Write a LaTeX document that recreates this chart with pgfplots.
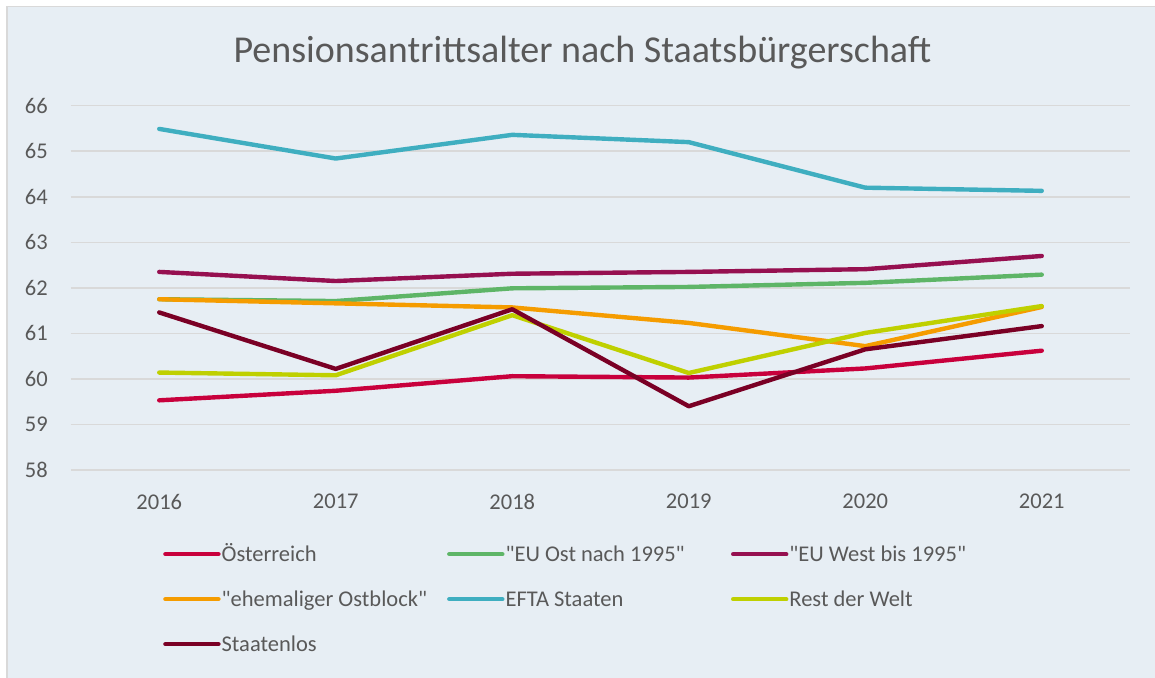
\documentclass[border=0pt]{standalone}
\usepackage{pgfplots}
\pgfplotsset{compat=1.18}
\usepackage{fontspec}
\setmainfont{Carlito}[Ligatures=TeXOff]
\definecolor{bg}{HTML}{E7EEF4}
\definecolor{bordercol}{HTML}{D9D9D9}
\definecolor{gridcol}{HTML}{D9D9D9}
\definecolor{txt}{HTML}{595959}
\definecolor{cAT}{HTML}{C8003C}
\definecolor{cEUO}{HTML}{5EB567}
\definecolor{cEUW}{HTML}{961050}
\definecolor{cOB}{HTML}{F59C00}
\definecolor{cEFTA}{HTML}{3FAEC0}
\definecolor{cRW}{HTML}{BFD000}
\definecolor{cSL}{HTML}{7A0025}
\newcommand{\legtxt}[1]{\makebox[224.5pt][l]{#1}}
\begin{document}
\begin{tikzpicture}
\useasboundingbox (-71pt,-207pt) rectangle (1084pt,470pt);
\fill[white] (-71pt,-207pt) rectangle (1084pt,470pt);
\fill[bg] (-64pt,-210pt) rectangle (1090pt,463.5pt);
\draw[bordercol, line width=1.3pt] (-64pt,-210pt) -- (-64pt,463.5pt) -- (1090pt,463.5pt);
\begin{axis}[
  at={(0pt,0pt)}, anchor=south west,
  scale only axis, width=1059pt, height=364.3pt,
  xmin=2015.5, xmax=2021.5, ymin=58, ymax=66,
  xtick={2016,2017,2018,2019,2020,2021},
  xticklabels={2016,2017,2018,2019,2020,2021},
  ytick={58,59,60,61,62,63,64,65,66},
  /pgf/number format/assume math mode=true,
  axis line style={draw=none},
  major tick length=0pt,
  ymajorgrids, xmajorgrids=false,
  grid style={gridcol, line width=1.5pt},
  tick label style={font=\fontsize{22.5}{24}\selectfont, text=txt},
  yticklabel style={anchor=east, inner sep=0pt, xshift=-23pt},
  xticklabel style={anchor=north, inner sep=0pt, yshift=-24pt},
  every axis plot/.append style={line width=4.4pt, line join=round, line cap=round},
  legend columns=3,
  legend image code/.code={\draw[#1, line width=4.4pt, line cap=round] (2pt,0pt) -- (55pt,0pt);},
  legend style={at={(0.0869,-0.1963)}, anchor=north west, draw=none, fill=none,
    inner sep=0pt, column sep=0pt, row sep=20pt,
    font=\fontsize{22.5}{24}\selectfont, text=txt,
    nodes={inner sep=1pt, text height=19pt, text depth=4pt}},
  legend cell align=left,
  clip=false,
]
\addplot[cAT] coordinates {(2016,59.53) (2017,59.74) (2018,60.06) (2019,60.03) (2020,60.23) (2021,60.62)};
\addlegendentry{\legtxt{Österreich}}
\addplot[cEUO] coordinates {(2016,61.75) (2017,61.71) (2018,61.99) (2019,62.02) (2020,62.11) (2021,62.29)};
\addlegendentry{\legtxt{"EU Ost nach 1995"}}
\addplot[cEUW] coordinates {(2016,62.35) (2017,62.15) (2018,62.31) (2019,62.35) (2020,62.41) (2021,62.70)};
\addlegendentry{\legtxt{"EU West bis 1995"}}
\addplot[cOB] coordinates {(2016,61.75) (2017,61.66) (2018,61.57) (2019,61.23) (2020,60.72) (2021,61.58)};
\addlegendentry{\legtxt{"ehemaliger Ostblock"}}
\addplot[cEFTA] coordinates {(2016,65.49) (2017,64.84) (2018,65.36) (2019,65.20) (2020,64.20) (2021,64.13)};
\addlegendentry{\legtxt{EFTA Staaten}}
\addplot[cRW] coordinates {(2016,60.14) (2017,60.08) (2018,61.40) (2019,60.13) (2020,61.01) (2021,61.60)};
\addlegendentry{\legtxt{Rest der Welt}}
\addplot[cSL] coordinates {(2016,61.46) (2017,60.22) (2018,61.53) (2019,59.40) (2020,60.65) (2021,61.16)};
\addlegendentry{\legtxt{Staatenlos}}
\end{axis}
\node[anchor=base, font=\fontsize{38}{40}\selectfont, text=txt, inner sep=0pt] at (511.5pt,407.7pt) {Pensionsantrittsalter nach Staatsbürgerschaft};
\end{tikzpicture}
\end{document}
